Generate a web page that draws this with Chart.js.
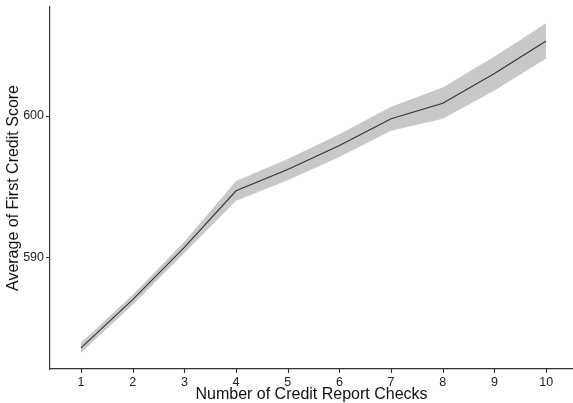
<!DOCTYPE html>
<html>
<head>
<meta charset="utf-8">
<script src="https://cdn.jsdelivr.net/npm/chart.js@4"></script>
<style>
  html, body { margin: 0; padding: 0; background: #fff; }
  #wrap { width: 573px; height: 403px; }
</style>
</head>
<body>
<div id="wrap"><canvas id="scoreChart"></canvas></div>
<script>
// Дані з графіка
var checks   = [1, 2, 3, 4, 5, 6, 7, 8, 9, 10];
var avgScore = [583.6, 587.0, 590.7, 594.7, 596.2, 597.9, 599.8, 600.9, 603.0, 605.3];
var lowerCI  = [583.25, 586.65, 590.3, 594.0, 595.45, 597.1, 598.95, 599.8, 601.8, 604.05];
var upperCI  = [583.95, 587.35, 591.1, 595.4, 596.95, 598.7, 600.65, 602.0, 604.2, 606.55];
var yTicks   = [590, 600];

function pts(ys) {
    return checks.map(function (x, i) { return { x: x, y: ys[i] }; });
}

var axisColor = '#333333';
var font = "'Liberation Sans', Arial, Helvetica, sans-serif";

new Chart(document.getElementById('scoreChart'), {
    type: 'scatter',
    data: {
        datasets: [
            { data: pts(avgScore), order: 0, showLine: true, borderColor: '#333333', borderWidth: 1.1,
              pointRadius: 0, fill: false, tension: 0 },
            { data: pts(lowerCI), order: 1, showLine: true, borderWidth: 0, pointRadius: 0, fill: false },
            { data: pts(upperCI), order: 1, showLine: true, borderWidth: 0, pointRadius: 0,
              fill: '-1', backgroundColor: 'rgba(190,190,190,0.85)' }
        ]
    },
    options: {
        responsive: true,
        maintainAspectRatio: false,
        animation: false,
        layout: { padding: { top: 7, right: 0, left: 0, bottom: 0 } },
        plugins: { legend: { display: false }, tooltip: { enabled: false } },
        scales: {
            x: {
                type: 'linear',
                min: 0.4, max: 10.52,
                afterBuildTicks: function (s) { s.ticks = checks.map(function (v) { return { value: v }; }); },
                afterFit: function (s) { s.height = 34; s.paddingLeft = 0; s.paddingRight = 0; },
                grid: { display: false, drawTicks: false },
                border: { display: true, color: axisColor, width: 1.2 },
                ticks: { color: '#222', font: { family: font, size: 12.5 }, padding: 6 },
                title: { display: true, text: 'Number of Credit Report Checks', color: '#111',
                         font: { family: font, size: 16, lineHeight: 1.0 }, padding: { top: 0, bottom: 0 } }
            },
            y: {
                min: 582.1, max: 607.7,
                afterBuildTicks: function (s) { s.ticks = yTicks.map(function (v) { return { value: v }; }); },
                afterFit: function (s) { s.width = 50; s.paddingTop = 0; s.paddingBottom = 0; },
                grid: { display: false, drawTicks: false },
                border: { display: true, color: axisColor, width: 1.2 },
                ticks: { color: '#222', font: { family: font, size: 12.5 }, padding: 6 },
                title: { display: true, text: 'Average of First Credit Score', color: '#111',
                         font: { family: font, size: 16, lineHeight: 1.0 }, padding: { top: 6, bottom: 0 } }
            }
        }
    },
    plugins: [{
        // маленькі поділки осей назовні
        id: 'tickMarks',
        afterDraw: function (chart) {
            var c = chart.ctx, xs = chart.scales.x, ys = chart.scales.y, a = chart.chartArea;
            c.save();
            c.strokeStyle = axisColor;
            c.lineWidth = 1.1;
            c.beginPath();
            xs.ticks.forEach(function (t) {
                var px = Math.round(xs.getPixelForValue(t.value)) + 0.5;
                c.moveTo(px, a.bottom); c.lineTo(px, a.bottom + 4);
            });
            ys.ticks.forEach(function (t) {
                var py = Math.round(ys.getPixelForValue(t.value)) + 0.5;
                c.moveTo(a.left, py); c.lineTo(a.left - 4, py);
            });
            c.stroke();
            c.restore();
        }
    }]
});
</script>
</body>
</html>
